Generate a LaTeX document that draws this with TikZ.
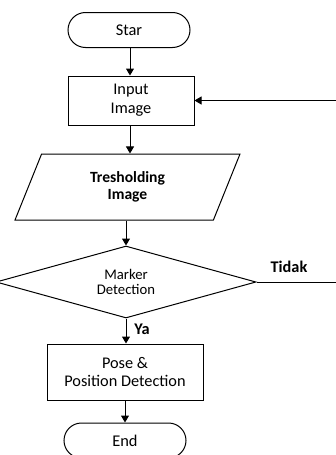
\documentclass[tikz,border=0pt]{standalone}
\usepackage{fontspec}
\setmainfont{Carlito}
\usetikzlibrary{shapes.geometric,shapes.misc,arrows.meta}
\begin{document}
\begin{tikzpicture}[x=1pt,y=-1pt,line width=1pt,
  term/.style={draw,rounded rectangle,minimum width=122pt,minimum height=35pt,inner sep=0pt,font=\fontsize{16.4}{18}\selectfont},
  procbox/.style={draw,rectangle,inner sep=0pt,align=center,font=\fontsize{16.3}{18.8}\selectfont},
  iobox/.style={draw,trapezium,trapezium left angle=49,trapezium right angle=131,trapezium stretches body,minimum width=225pt,minimum height=66pt,inner sep=0pt,align=center,font=\bfseries\fontsize{15.6}{17}\selectfont},
  decbox/.style={draw,diamond,aspect=3.6,minimum width=260pt,minimum height=72pt,inner sep=0pt,align=center,font=\fontsize{14.7}{15}\selectfont},
  lbl/.style={font=\bfseries\fontsize{16.3}{18}\selectfont,inner sep=0pt},
  arr/.style={-{Triangle[width=8pt,length=7pt]}}]
\useasboundingbox (0,0) rectangle (336,455);
\clip (0,0) rectangle (336,455);
\node[term] (star) at (129,30) {Star};
\node[procbox,minimum width=126pt,minimum height=49pt] (inp) at (131,100.5) {Input\\Image};
\node[iobox] (thr) at (127.5,187) {Tresholding\\Image};
\node[decbox] (dia) at (126,282) {Marker\\Detection};
\node[procbox,minimum width=156pt,minimum height=56pt] (pose) at (125,372) {Pose \&\\Position Detection};
\node[term] (end) at (125,440.5) {End};
\node[lbl] (ya) at (142,329) {Ya};
\node[lbl] (tidak) at (289,267) {Tidak};
\coordinate (fb) at (360,282);
\draw[arr] (star.south -| 130,0) -- (130,0 |- inp.north);
\draw[arr] (inp.south -| 130,0) -- (130,0 |- thr.north);
\draw[arr] (thr.south -| dia.north) -- (dia.north);
\draw[arr] (dia.south) -- (dia.south |- pose.north);
\draw[arr] (pose.south) -- (end.north);
\draw[arr] (dia.east) -- (fb) |- (inp.east);
\end{tikzpicture}
\end{document}
